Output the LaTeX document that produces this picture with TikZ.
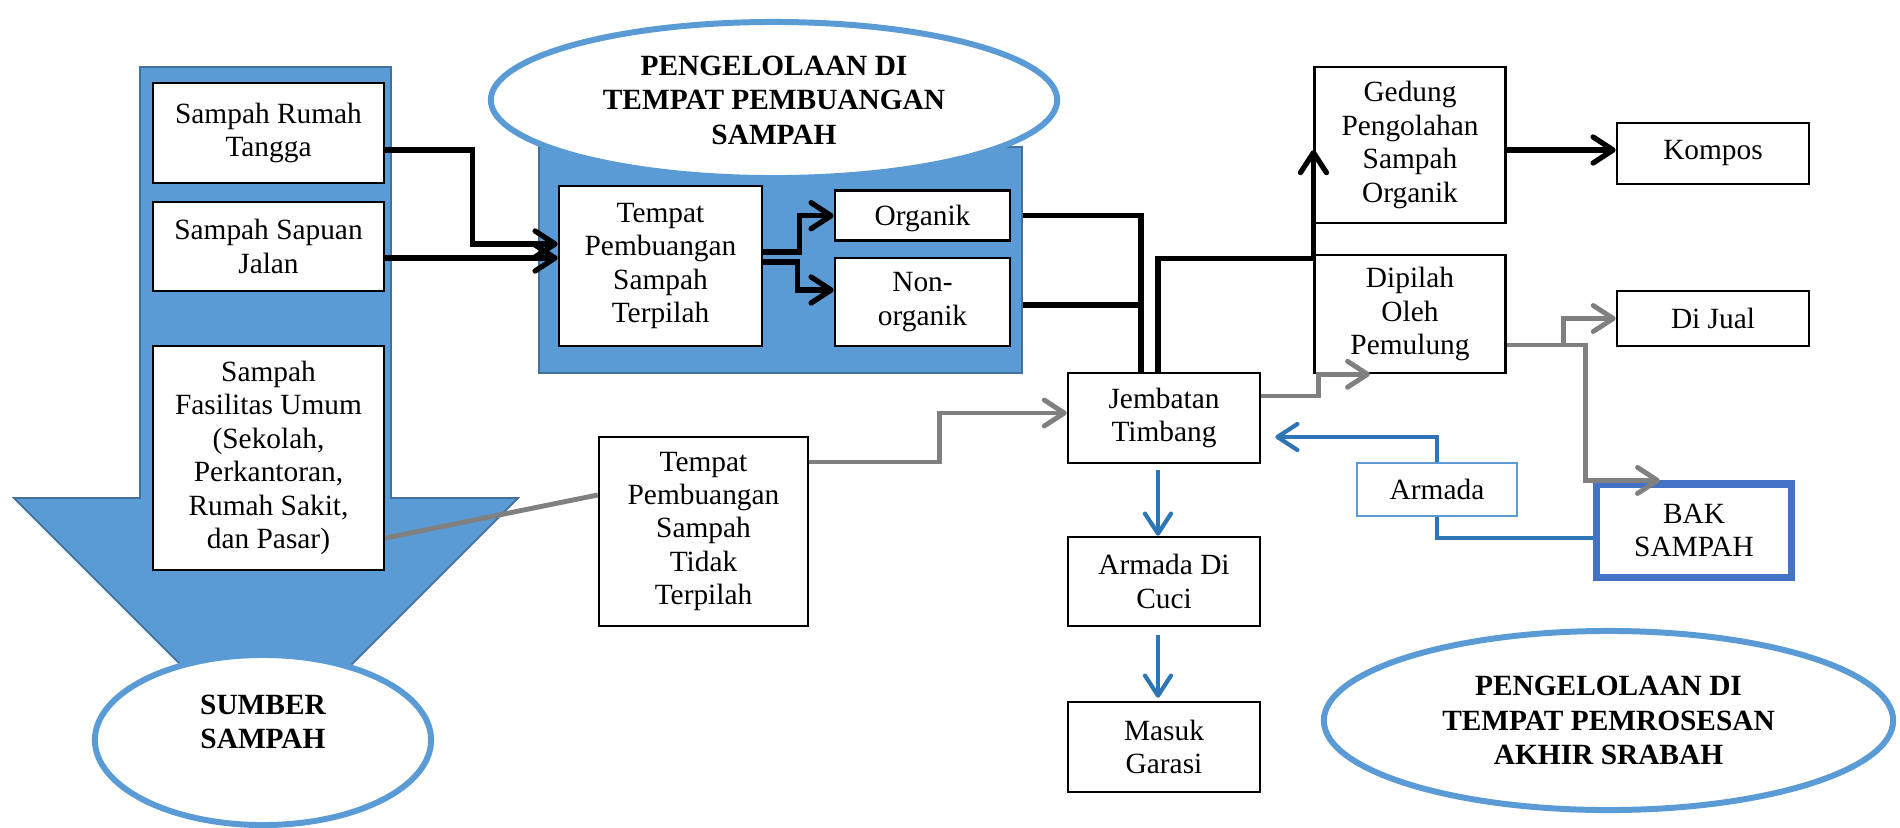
\documentclass[tikz,border=0pt]{standalone}
\usepackage{fontspec}
\setmainfont{Liberation Serif}
\usetikzlibrary{arrows.meta,positioning,shapes.geometric}
\definecolor{fillblue}{HTML}{5B9BD5}
\definecolor{edgeblue}{HTML}{41719C}
\definecolor{flowblue}{HTML}{2E75B6}
\definecolor{bakblue}{HTML}{4472C4}
\definecolor{flowgray}{HTML}{808080}
\tikzset{
  % plain text box
  box/.style = {
    draw = black,
    fill = white,
    rectangle,
    line width = .7pt,
    inner sep = 0,
    align = center,
    font = \fontsize{8.35}{9.5}\selectfont
  },
  % bold title text
  ovaltext/.style = {
    align = center,
    font = \fontsize{8.35}{9.8}\selectfont\bfseries
  },
  % title oval
  oval/.style = {
    ovaltext,
    draw = fillblue,
    fill = white,
    ellipse,
    line width = 1.7pt,
    inner sep = 0
  },
  % blue area behind the boxes
  panel/.style = {
    draw = edgeblue,
    fill = fillblue,
    line width = .5pt
  },
  headed/.style = {-{Straight Barb[length=2mm,width=2.6mm,round]}},
  % black path with arrow
  arr/.style = {draw = black, line width = 1.5pt, headed},
  % black path, no arrow
  narr/.style = {draw = black, line width = 1.5pt},
  % grey paths
  garr/.style = {draw = flowgray, line width = 1.4pt, headed},
  gline/.style = {draw = flowgray, line width = 1.4pt},
  % blue paths
  barr/.style = {draw = flowblue, line width = 1.2pt, headed},
  bline/.style = {draw = flowblue, line width = 1.2pt}
}

\begin{document}
\begin{tikzpicture}[x=0.01cm, y=-0.01cm]
    \useasboundingbox (0,0) rectangle (1900,827);

    % source arrow
    \draw[panel] (140,67) -- (391,67) -- (391,498) -- (518,498)
      -- (266,750) -- (14,498) -- (140,498) -- cycle;

    \node[box, minimum width=2.31cm, minimum height=1cm] (rumah) at (268.5,133) {Sampah Rumah\\Tangga};
    \node[box, minimum width=2.31cm, minimum height=.89cm] (sapuan) at (268.5,246.5) {Sampah Sapuan\\Jalan};
    \node[box, minimum width=2.31cm, minimum height=2.24cm] (fasum) at (268.5,458)
      {Sampah\\Fasilitas Umum\\(Sekolah,\\Perkantoran,\\Rumah Sakit,\\dan Pasar)};

    \node[oval, minimum width=3.36cm, minimum height=1.7cm] (sumber) at (263,740) {};
    \node[ovaltext] (sumber text) at ([yshift=1.8mm]sumber.center) {SUMBER\\SAMPAH};

    % sorted site
    \node[panel, minimum width=4.83cm, minimum height=2.26cm] (tpsarea) at (780.5,260) {};
    \node[oval, minimum width=5.66cm, minimum height=1.56cm] (tpstitle) at (774,100)
      {PENGELOLAAN DI\\TEMPAT PEMBUANGAN\\SAMPAH};

    \node[box, minimum width=2.03cm, minimum height=1.6cm] (tps) at (660.5,266) {Tempat\\Pembuangan\\Sampah\\Terpilah};
    \node[box, text depth=0pt, minimum width=1.75cm, minimum height=.5cm] (org) at (922.5,215.7) {Organik};
    \node[box, minimum width=1.75cm, minimum height=.88cm] (nonorg) at (922.5,302) {Non-\\organik};

    \node[box, minimum width=2.09cm, minimum height=1.89cm] (ttp) at (703.5,531.5)
      {Tempat\\Pembuangan\\Sampah\\Tidak\\Terpilah};

    % final site
    \node[box, minimum width=1.92cm, minimum height=.9cm] (jt) at (1164,418) {Jembatan\\Timbang};
    \node[box, minimum width=1.905cm, minimum height=1.56cm] (gedung) at (1410,145) {Gedung\\Pengolahan\\Sampah\\Organik};
    \node[box, minimum width=1.92cm, minimum height=.61cm] (kompos) at (1713,153.5) {Kompos};
    \node[box, minimum width=1.905cm, minimum height=1.18cm] (dipilah) at (1410,314) {Dipilah\\Oleh\\Pemulung};
    \node[box, minimum width=1.92cm, minimum height=.55cm] (dijual) at (1713,318.5) {Di Jual};
    \node[box, draw=fillblue, line width=.6pt, minimum width=1.6cm, minimum height=.53cm] (armada) at (1437,489.5) {Armada};
    \node[box, draw=bakblue, line width=2pt, minimum width=1.94cm, minimum height=.93cm] (bak) at (1694,530.5) {BAK\\SAMPAH};
    \node[box, minimum width=1.92cm, minimum height=.89cm] (cuci) at (1164,581.5) {Armada Di\\Cuci};
    \node[box, minimum width=1.92cm, minimum height=.9cm] (garasi) at (1164,747) {Masuk\\Garasi};

    \node[oval, minimum width=5.69cm, minimum height=1.79cm] (tpatitle) at (1608.5,720.5)
      {PENGELOLAAN DI\\TEMPAT PEMROSESAN\\AKHIR SRABAH};

    % sources into sorted site
    \draw[arr] ([yshift=-1.7mm]rumah.east) -- ++(87,0) |- ([yshift=2.2mm]tps.west);
    \draw[arr] ([yshift=-1.15mm]sapuan.east) -- ([yshift=-1.15mm]sapuan.east -| tps.west);

    % split by kind
    \draw[arr] ([yshift=1.4mm]tps.east) -- ++(36,0) |- (org.west);
    \draw[arr] ([yshift=.4mm]tps.east) -- ++(34,0) |- ([yshift=1.2mm]nonorg.west);

    % to the weighbridge
    \draw[narr] (org.east -| tpsarea.east) -| ([xshift=-2.3mm]jt.north);
    \draw[narr] ([yshift=-.3mm]nonorg.east -| tpsarea.east) -- ++(119,0);
    \draw[arr] ([xshift=-.6mm]jt.north) |- ([yshift=-.5mm]dipilah.north west)
      -- ([yshift=-.5mm]gedung.west);
    \draw[arr] ([yshift=-.5mm]gedung.east) -- ([yshift=-.5mm]gedung.east -| kompos.west);

    % unsorted waste
    \draw[gline] ([yshift=-8mm]fasum.east) -- ([yshift=3.65mm]ttp.west);
    \draw[garr] ([yshift=6.95mm]ttp.east) -- ++(130,0) |- ([yshift=.5mm]jt.west);
    \draw[garr] ([yshift=2.2mm]jt.east) -- ++(57,0) |- ([xshift=-4mm]dipilah.south);
    \draw[garr] ([yshift=-3.1mm]dipilah.east) -- ++(57,0) |- (dijual.west);
    \draw[garr] ([yshift=-3.1mm]dipilah.east) -- ++(79,0) |- ([xshift=-3.4mm]bak.north);

    % fleet
    \draw[barr] (armada.north) |- ([xshift=1.4mm,yshift=-1.9mm]jt.east);
    \draw[bline] ([yshift=-.75mm]bak.west) -| (armada.south);
    \draw[barr] ([xshift=-.6mm,yshift=-.6mm]jt.south) -- ([xshift=-.6mm]cuci.north);
    \draw[barr] ([xshift=-.6mm,yshift=-.8mm]cuci.south) -- ([xshift=-.6mm,yshift=.3mm]garasi.north);
\end{tikzpicture}
\end{document}
